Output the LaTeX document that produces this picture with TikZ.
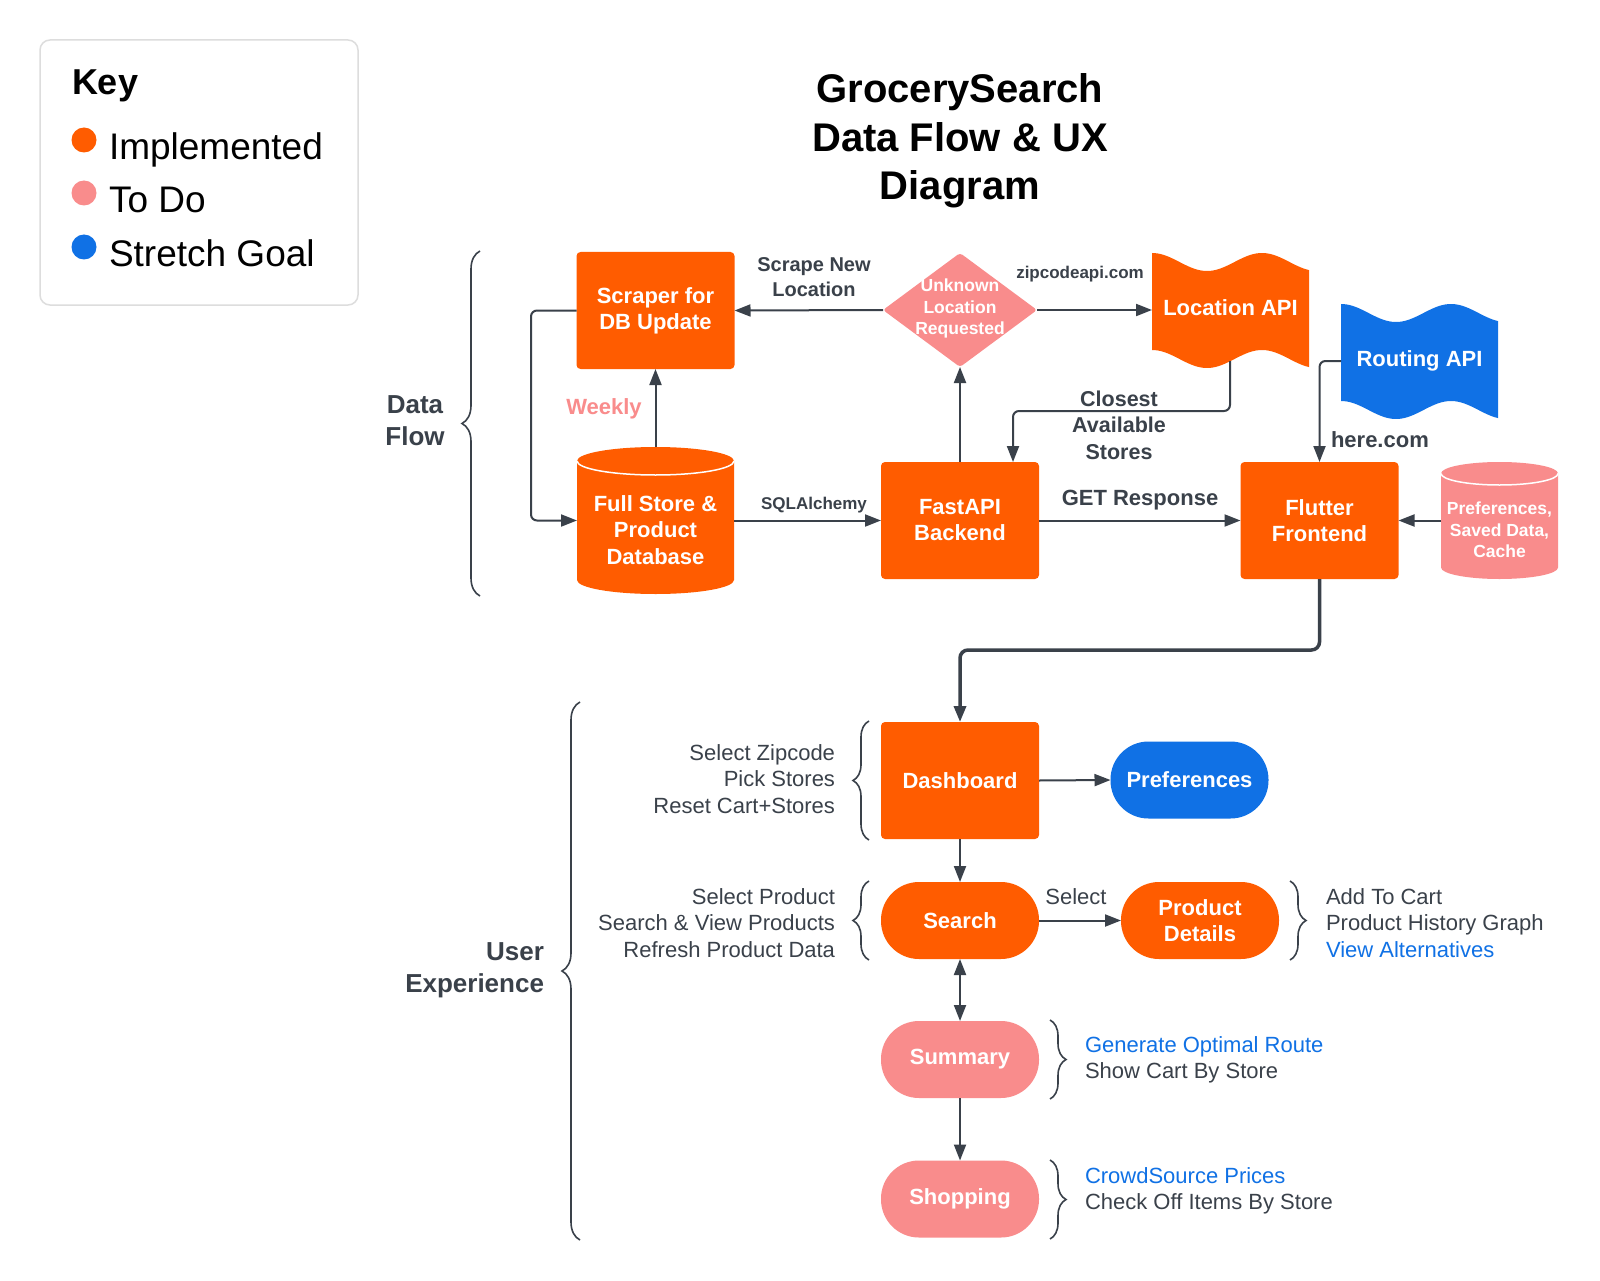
\documentclass[tikz,border=0pt]{standalone}
\usepackage{fontspec}
\setmainfont{Liberation Sans}
\usetikzlibrary{arrows.meta,decorations.pathreplacing,calc}
\definecolor{orangeC}{HTML}{FF5C00}
\definecolor{pinkC}{HTML}{F98C8C}
\definecolor{blueC}{HTML}{1071E5}
\definecolor{lineC}{HTML}{3A414A}
\definecolor{keyC}{HTML}{DDDDDD}
\begin{document}
\begin{tikzpicture}[x=1pt,y=-1pt,
  every node/.style={inner sep=0pt, outer sep=0pt},
  box/.style={fill=orangeC, rounded corners=4pt, minimum width=158pt, minimum height=117pt, text=white, font=\bfseries\fontsize{22}{26}\selectfont, align=center},
  pill/.style={rounded corners=38pt, minimum width=158pt, minimum height=77pt, text=white, font=\bfseries\fontsize{22}{26}\selectfont, align=center},
  arr/.style={draw=lineC, line width=2pt, -{Triangle[length=16pt,width=12pt]}},
  lbl/.style={text=lineC, font=\bfseries\fontsize{20}{25}\selectfont, align=center},
  note/.style={text=lineC, font=\fontsize{22}{26.5}\selectfont},
  keyt/.style={anchor=base west, text=black, font=\fontsize{37}{40}\selectfont},
  brc/.style={draw=lineC, line width=1.6pt, decorate, decoration={brace, amplitude=#1}},
]
\fill[white] (0,0) rectangle (1600,1281);
\useasboundingbox (0,0) rectangle (1600,1281);

% ---------- Key ----------
\node[draw=keyC, line width=1.5pt, rounded corners=10pt, minimum width=318pt, minimum height=265pt] (keybox) at (199,172.5) {};
\node[anchor=base west, text=black, font=\bfseries\fontsize{36}{40}\selectfont] (keyh) at (72,95) {Key};
\node[circle, fill=orangeC, minimum size=25pt] (kd1) at (84,140) {};
\node[circle, fill=pinkC, minimum size=25pt] (kd2) at (84,193) {};
\node[circle, fill=blueC, minimum size=25pt] (kd3) at (84,247) {};
\node[keyt] (kt1) at (109,160) {Implemented};
\node[keyt] (kt2) at (109,213) {To Do};
\node[keyt] (kt3) at (109,266) {Stretch Goal};

% ---------- Title ----------
\node[text=black, font=\bfseries\fontsize{40}{48.5}\selectfont, align=center] (title) at (960,141) {GrocerySearch\\Data Flow \& UX\\Diagram};

% ---------- Data Flow ----------
\draw[brc=18pt] (480,596) -- (480,251);
\node[lbl, font=\bfseries\fontsize{26}{32}\selectfont] (dft) at (415,421) {Data\\Flow};

\node[box] (scr) at (655.5,310.5) {Scraper for\\DB Update};

% database cylinder
\fill[orangeC] (577,461) -- (577,580) arc[start angle=180,end angle=0,x radius=78.5,y radius=14] -- (734,461) arc[start angle=0,end angle=-180,x radius=78.5,y radius=14] -- cycle;
\draw[white, line width=1.5pt] (577,461) arc[start angle=180,end angle=0,x radius=78.5,y radius=14];
\node[minimum width=157pt, minimum height=147pt] (db) at (655.5,520.5) {};
\node[text=white, font=\bfseries\fontsize{22}{26.5}\selectfont, align=center] (dbt) at (655.5,530) {Full Store \&\\Product\\Database};

% diamond
\node[minimum width=154pt, minimum height=114pt] (unk) at (960,310) {};
\fill[pinkC, rounded corners=3pt] (unk.north) -- (unk.east) -- (unk.south) -- (unk.west) -- cycle;
\node[text=white, font=\bfseries\fontsize{17.5}{21.5}\selectfont, align=center] (unkt) at (960,308.5) {Unknown\\Location\\Requested};

% Location API flag
\fill[orangeC] plot[domain=1152:1309,samples=60] (\x,{262-9*cos((\x-1152)/110*360)}) -- plot[domain=1309:1152,samples=60] (\x,{359-9*cos((\x-1152)/110*360)}) -- cycle;
\node[minimum width=157pt, minimum height=114pt] (loc) at (1230.5,310) {};
\node[text=white, font=\bfseries\fontsize{22}{26}\selectfont] (loct) at (1230.5,308) {Location API};

% Routing API flag
\fill[blueC] plot[domain=1341:1498,samples=60] (\x,{313-9*cos((\x-1341)/110*360)}) -- plot[domain=1498:1341,samples=60] (\x,{410-9*cos((\x-1341)/110*360)}) -- cycle;
\node[minimum width=157pt, minimum height=114pt, text=white, font=\bfseries\fontsize{22}{26}\selectfont] (rout) at (1419.5,361) {Routing API};

\node[box] (fast) at (960,520.5) {FastAPI\\Backend};
\node[box] (flut) at (1319.5,520.5) {Flutter\\Frontend};

% preferences cylinder
\fill[pinkC] (1441,473.5) -- (1441,567.5) arc[start angle=180,end angle=0,x radius=58.5,y radius=11.5] -- (1558,473.5) arc[start angle=0,end angle=-180,x radius=58.5,y radius=11.5] -- cycle;
\draw[white, line width=1.5pt] (1441,473.5) arc[start angle=180,end angle=0,x radius=58.5,y radius=11.5];
\node[minimum width=117pt, minimum height=118pt] (pdb) at (1499.5,520.5) {};
\node[text=white, font=\bfseries\fontsize{17.5}{21.5}\selectfont, align=center] (pdbt) at (1499.5,530) {Preferences,\\Saved Data,\\Cache};

% data flow connectors
\coordinate (bend3) at (531,310.5);
\draw[arr, rounded corners=6pt] (scr.west) -- (bend3) |- (db.west);
\draw[arr] (db.north) -- (scr.south);
\draw[arr] (unk.west) -- (scr.east);
\draw[arr] (unk.east) -- (loc.west);
\draw[arr] (db.east) -- (fast.west);
\draw[arr] (fast.north) -- (unk.south);
\coordinate (locb) at (1230,361);
\coordinate (bend1) at (1013,411);
\draw[arr, rounded corners=6pt] (locb) |- (bend1) -- (bend1 |- fast.north);
\draw[arr] (fast.east) -- (flut.west);
\draw[arr, rounded corners=6pt] (rout.west) -| (flut.north);
\draw[arr] (pdb.west) -- (flut.east);

\node[lbl] (l1) at (814,277) {Scrape New\\Location};
\node[lbl, font=\bfseries\fontsize{17}{20}\selectfont] (l2) at (1080,274) {zipcodeapi.com};
\node[lbl, text=pinkC, font=\bfseries\fontsize{22}{26}\selectfont] (l3) at (604,409) {Weekly};
\node[lbl, font=\bfseries\fontsize{17}{20}\selectfont] (l4) at (814,505) {SQLAlchemy};
\node[lbl, font=\bfseries\fontsize{21.5}{26.5}\selectfont] (l5) at (1119,425) {Closest\\Available\\Stores};
\node[lbl, font=\bfseries\fontsize{22}{26}\selectfont] (l6) at (1140,500) {GET Response};
\node[lbl, anchor=west, font=\bfseries\fontsize{22}{26}\selectfont] (l7) at (1331,440) {here.com};

% ---------- User Experience ----------
\draw[brc=18pt] (580,1240) -- (580,702);
\node[lbl, font=\bfseries\fontsize{26}{32}\selectfont, align=right, anchor=east] (uxt) at (544,970) {User\\Experience};

\node[box] (dash) at (960,780.5) {Dashboard};
\node[pill, fill=blueC] (pref) at (1189.5,780) {Preferences};
\node[pill, fill=orangeC] (search) at (960,920.5) {Search};
\node[pill, fill=orangeC] (pd) at (1200,920.5) {Product\\Details};
\node[pill, fill=pinkC] (summ) at (960,1059.5) {Summary};
\node[pill, fill=pinkC] (shop) at (960,1199) {Shopping};

\coordinate (bend2) at (960,650);
\draw[arr, line width=3.5pt, rounded corners=8pt] (flut.south) |- (bend2) -- (dash.north);
\draw[arr] (dash.east) -- (pref.west);
\draw[arr] (dash.south) -- (search.north);
\draw[arr] (search.east) -- (pd.west);
\draw[arr, {Triangle[length=16pt,width=12pt]}-{Triangle[length=16pt,width=12pt]}] (search.south) -- (summ.north);
\draw[arr] (summ.south) -- (shop.north);

\node[note] (sel) at (1076,897) {Select};

\draw[brc=16pt] (869,840) -- (869,721);
\draw[brc=16pt] (869,960) -- (869,881);
\draw[brc=16pt] (1290,881) -- (1290,960);
\draw[brc=16pt] (1050,1020) -- (1050,1099);
\draw[brc=16pt] (1050,1160) -- (1050,1239);

\node[note, align=right, anchor=east] (n1) at (835,779) {Select Zipcode\\Pick Stores\\Reset Cart+Stores};
\node[note, align=right, anchor=east] (n2) at (835,923) {Select Product\\Search \& View Products\\Refresh Product Data};
\node[note, align=left, anchor=west] (n3) at (1326,923) {Add To Cart\\Product History Graph\\\textcolor{blueC}{View Alternatives}};
\node[note, align=left, anchor=west] (n4) at (1085,1060) {\textcolor{blueC}{Generate Optimal Route}\\Show Cart By Store};
\node[note, align=left, anchor=west] (n5) at (1085,1191) {\textcolor{blueC}{CrowdSource Prices}\\Check Off Items By Store};
\end{tikzpicture}
\end{document}
